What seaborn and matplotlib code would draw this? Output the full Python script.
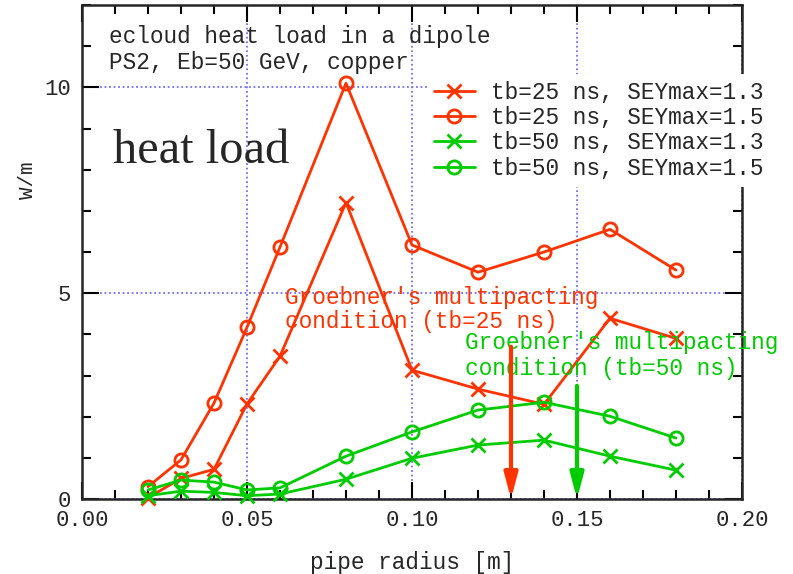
import numpy as np
import pandas as pd
import seaborn as sns
import matplotlib
matplotlib.use("Agg")
import matplotlib.pyplot as plt
from matplotlib.ticker import MultipleLocator

# pipe radius [m]
radius = [0.02, 0.03, 0.04, 0.05, 0.06, 0.08, 0.10, 0.12, 0.14, 0.16, 0.18]

# heat load [W/m]
tb25_sey13 = [0.03, 0.50, 0.72, 2.31, 3.47, 7.20, 3.13, 2.67, 2.30, 4.39, 3.90]
tb25_sey15 = [0.30, 0.95, 2.33, 4.17, 6.12, 10.10, 6.17, 5.51, 6.00, 6.55, 5.56]
tb50_sey13 = [0.08, 0.19, 0.16, 0.08, 0.12, 0.48, 0.99, 1.31, 1.43, 1.04, 0.70]
tb50_sey15 = [0.22, 0.46, 0.41, 0.22, 0.27, 1.04, 1.63, 2.16, 2.35, 2.01, 1.48]

labels = ["tb=25 ns, SEYmax=1.3", "tb=25 ns, SEYmax=1.5",
          "tb=50 ns, SEYmax=1.3", "tb=50 ns, SEYmax=1.5"]

# Groebner multipacting radii and arrow heights
groebner_r = [0.13, 0.15]
groebner_top = [3.7, 2.75]

RED = "#ff3300"
GREEN = "#00cc00"
GRID = "#7070ff"
FS = 16.4

sns.set_style("ticks")
plt.rcParams["font.family"] = ["Liberation Mono", "DejaVu Sans Mono"]

df = pd.concat([
    pd.DataFrame({"r": radius, "P": v, "series": lab})
    for v, lab in zip([tb25_sey13, tb25_sey15, tb50_sey13, tb50_sey15], labels)
])

fig = plt.figure(figsize=(7.93, 5.74), dpi=100)
ax = fig.add_axes([82 / 793, 75 / 574, 660 / 793, 494 / 574])

styles = {
    labels[0]: (RED, "x", 10),
    labels[1]: (RED, "o", 9.5),
    labels[2]: (GREEN, "x", 10),
    labels[3]: (GREEN, "o", 9.5),
}
for lab in labels:
    c, m, ms = styles[lab]
    sub = df[df["series"] == lab]
    sns.lineplot(data=sub, x="r", y="P", color=c, marker=m, markersize=ms,
                 mfc="none", mec=c, mew=2, lw=2, label=lab, ax=ax,
                 zorder=3, clip_on=False)

ax.set_xlim(0, 0.2)
ax.set_ylim(0, 12)
ax.xaxis.set_major_locator(MultipleLocator(0.05))
ax.xaxis.set_minor_locator(MultipleLocator(0.01))
ax.yaxis.set_major_locator(MultipleLocator(5))
ax.yaxis.set_minor_locator(MultipleLocator(1))
ax.set_xticklabels([f"{v:.2f}" for v in ax.get_xticks()])
ax.tick_params(which="both", direction="in", top=True, right=True,
               width=1.5, labelsize=16, color="black")
ax.tick_params(which="major", length=12)
ax.tick_params(which="minor", length=6.5)
ax.tick_params(axis="x", pad=8)
ax.tick_params(axis="y", pad=8)
for s in ax.spines.values():
    s.set_linewidth(1.8)
    s.set_visible(True)

ax.grid(True, which="major", color=GRID, linestyle=(0, (1, 1.5)), lw=1.3)
ax.set_axisbelow(True)

ax.set_xlabel("pipe radius [m]", fontsize=FS, labelpad=14)
ax.set_ylabel("W/m", fontsize=15)
ax.yaxis.set_label_coords(-0.068, 0.645)

# Groebner condition arrows
for r, top, c in zip(groebner_r, groebner_top, [RED, GREEN]):
    ax.annotate("", xy=(r, 0), xytext=(r, top),
                arrowprops=dict(arrowstyle="-|>,head_length=1.5,head_width=0.4",
                                color=c, lw=3, shrinkA=0, shrinkB=0),
                zorder=4)

ax.text(0.0615, 4.9, "Groebner's multipacting", color=RED, fontsize=FS, va="center")
ax.text(0.0615, 4.3, "condition (tb=25 ns)", color=RED, fontsize=FS, va="center")
ax.text(0.116, 3.79, "Groebner's multipacting", color=GREEN, fontsize=FS, va="center")
ax.text(0.116, 3.18, "condition (tb=50 ns)", color=GREEN, fontsize=FS, va="center")

ax.text(0.0082, 11.245, "ecloud heat load in a dipole", fontsize=FS, va="center")
ax.text(0.0082, 10.6, "PS2, Eb=50 GeV, copper", fontsize=FS, va="center")
ax.text(0.0094, 8.16, "heat load", fontsize=34.8, va="baseline",
        family=["Liberation Serif", "DejaVu Serif"])

leg = ax.legend(loc="upper left", bbox_to_anchor=(427 / 793, 1 - 74 / 574),
                bbox_transform=fig.transFigure, frameon=True, fancybox=False,
                edgecolor="none", facecolor="white", framealpha=1,
                fontsize=FS, handlelength=1.8, handletextpad=0.7,
                labelspacing=0.1, borderpad=0.3, borderaxespad=0)
leg.set_zorder(10)

fig.savefig("out.png", dpi=100)
